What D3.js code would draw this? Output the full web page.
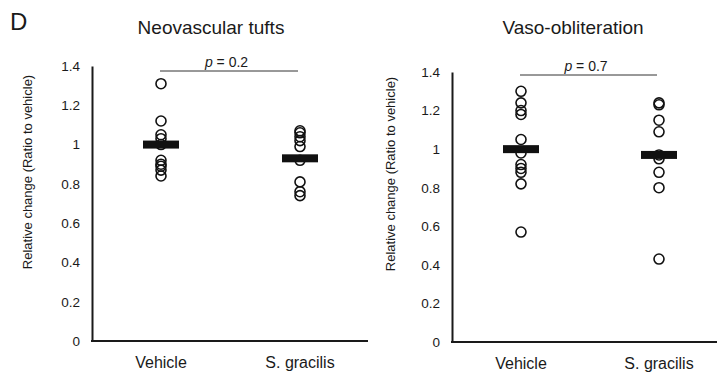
<!DOCTYPE html>
<html><head><meta charset="utf-8">
<script src="https://cdn.jsdelivr.net/npm/d3@7"></script>
<style>
body{margin:0;background:#fff;}
text{font-family:"Liberation Sans",Arial,Helvetica,sans-serif;fill:#1a1a1a;}
</style></head>
<body><svg id="c" width="717" height="376"></svg>
<script>
const categories = ["Vehicle", "S. gracilis"];
const tickValues = [0, 0.2, 0.4, 0.6, 0.8, 1, 1.2, 1.4];
const tickLabels = ["0", "0.2", "0.4", "0.6", "0.8", "1", "1.2", "1.4"];
const titles = ["Neovascular tufts", "Vaso-obliteration"];
const pValues = ["0.2", "0.7"];
const tuftsVehicle = [1.31, 1.12, 1.05, 1.03, 1.0, 0.92, 0.90, 0.89, 0.87, 0.84];
const tuftsGracilis = [1.07, 1.06, 1.04, 1.02, 0.99, 0.92, 0.81, 0.76, 0.74];
const tuftsMeans = [1.0, 0.93];
const voVehicle = [1.30, 1.24, 1.20, 1.18, 1.05, 0.98, 0.92, 0.90, 0.88, 0.82, 0.57];
const voGracilis = [1.24, 1.23, 1.15, 1.09, 0.97, 0.95, 0.88, 0.80, 0.43];
const voMeans = [1.0, 0.97];

const svg = d3.select("#c");
svg.append("text").attr("x", 10).attr("y", 30).attr("font-size", 24).text("D");

const panels = [
  {title: titles[0], p: pValues[0], series: [tuftsVehicle, tuftsGracilis], means: tuftsMeans,
   ax: 92, axEnd: 368, yTop: 66, yBot: 341, c1: 161, c2: 300, titleX: 211, labelX: 29, labelY: 172, pY: 71},
  {title: titles[1], p: pValues[1], series: [voVehicle, voGracilis], means: voMeans,
   ax: 452, axEnd: 717, yTop: 72, yBot: 342, c1: 521, c2: 659, titleX: 573, labelX: 392, labelY: 174, pY: 75}
];

panels.forEach(P => {
  const g = svg.append("g");
  const y = d3.scaleLinear().domain([0, 1.4]).range([P.yBot, P.yTop]);
  const x = d3.scalePoint().domain(categories).range([P.c1, P.c2]);

  const yAxis = g.append("g").attr("transform", `translate(${P.ax},0)`)
    .call(d3.axisLeft(y).tickValues(tickValues).tickSize(0).tickSizeOuter(0).tickPadding(12)
      .tickFormat((d, i) => tickLabels[i]));
  yAxis.select(".domain").attr("stroke", "#1a1a1a").attr("stroke-width", 2);
  yAxis.selectAll("text").attr("font-size", 13.5).attr("fill", "#1a1a1a")
    .attr("font-family", "Liberation Sans, Arial, sans-serif");

  g.append("line").attr("x1", P.ax - 1).attr("x2", P.axEnd).attr("y1", y(0)).attr("y2", y(0))
    .attr("stroke", "#1a1a1a").attr("stroke-width", 2);

  g.selectAll(".xl").data(categories).join("text")
    .attr("x", d => x(d)).attr("y", P.yBot + 27).attr("text-anchor", "middle")
    .attr("font-size", 16).text(d => d);

  g.append("text").attr("x", P.titleX).attr("y", 34).attr("text-anchor", "middle")
    .attr("font-size", 19).text(P.title);

  g.append("text").attr("transform", `translate(${P.labelX},${P.labelY}) rotate(-90)`)
    .attr("text-anchor", "middle").attr("dominant-baseline", "middle")
    .attr("font-size", 13).text("Relative change (Ratio to vehicle)");

  // p-value bracket
  g.append("line").attr("x1", x(categories[0]) - 1).attr("x2", x(categories[1]) - 2)
    .attr("y1", P.pY).attr("y2", P.pY).attr("stroke", "#333").attr("stroke-width", 1);
  const pt = g.append("text").attr("x", (x(categories[0]) + x(categories[1])) / 2 - 4)
    .attr("y", P.pY - 4).attr("text-anchor", "middle").attr("font-size", 14);
  pt.append("tspan").attr("font-style", "italic").text("p");
  pt.append("tspan").text(" = " + P.p);

  P.series.forEach((vals, i) => {
    g.selectAll(null).data(vals).join("circle")
      .attr("cx", x(categories[i])).attr("cy", d => y(d)).attr("r", 5)
      .attr("fill", "none").attr("stroke", "#111").attr("stroke-width", 1.6);
  });
  g.selectAll(".mean").data(P.means).join("rect")
    .attr("x", (d, i) => x(categories[i]) - 18).attr("width", 36)
    .attr("y", d => y(d) - 4).attr("height", 8).attr("fill", "#111");
});
</script></body></html>
